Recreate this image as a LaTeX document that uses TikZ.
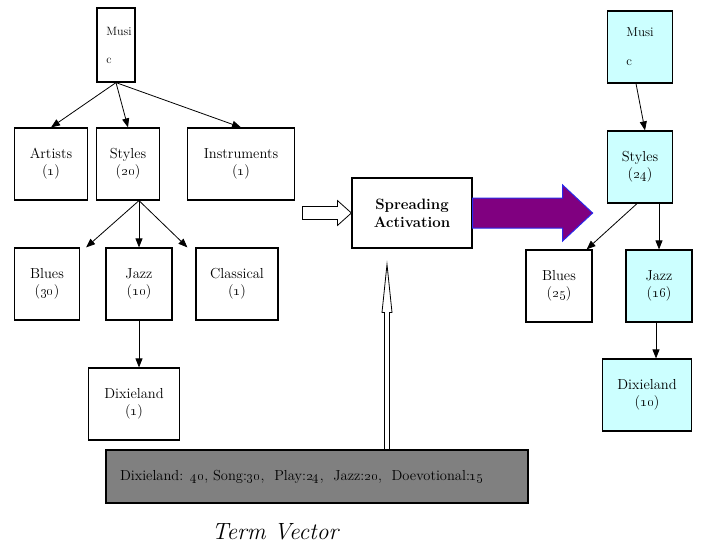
\documentclass[tikz,border=0pt]{standalone}
\usetikzlibrary{arrows.meta,calc}
\definecolor{smCyan}{RGB}{204,255,255}
\definecolor{smPurple}{RGB}{128,0,128}
\definecolor{smBlue}{RGB}{40,40,235}
\definecolor{smGrey}{RGB}{128,128,128}

\begin{document}
\begin{tikzpicture}[
    x=1pt, y=-1pt,
    font=\fontsize{14.5}{17}\selectfont,
    term box/.style={rectangle, draw, line width=1.2pt, fill=white, align=center, minimum height=72pt, inner sep=2pt},
    hit box/.style={term box, fill=smCyan},
    link/.style={->, >={Triangle[length=9pt, width=7pt]}, line width=0.8pt},
    hollow arrow/.style={draw, line width=0.8pt, fill=white, line join=miter}
]
  \useasboundingbox (0,0) rectangle (701,549);

  % query tree
  \node[term box, minimum width=38pt, minimum height=74pt, align=left, font=\fontsize{12}{14}\selectfont] (music) at (116,45)
        {\hspace*{6pt}Musi\\[14pt]\hspace*{6pt}c};
  \node[term box, minimum width=73pt] (artists) at (51,164) {Artists\\(\oldstylenums{1})};
  \node[term box, minimum width=63pt] (styles) at (128,164) {Styles\\(\oldstylenums{20})};
  \node[term box, minimum width=107pt] (instruments) at (241,164) {Instruments\\(\oldstylenums{1})};
  \node[term box, minimum width=65pt] (blues) at (47,284) {Blues\\(\oldstylenums{30})};
  \node[term box, minimum width=66pt] (jazz) at (139,284) {Jazz\\(\oldstylenums{10})};
  \node[term box, minimum width=82pt] (classical) at (237,284) {Classical\\(\oldstylenums{1})};
  \node[term box, minimum width=91pt] (dixieland) at (134,404) {Dixieland\\(\oldstylenums{1})};

  \coordinate (fork) at (styles.south -| jazz.north);
  \draw[link] (music.south) -- (artists.north);
  \draw[link] (music.south) -- (styles.north);
  \draw[link] (music.south) -- (instruments.north);
  \draw[link] (fork) -- ($(blues.north east)+(6,0)$);
  \draw[link] (fork) -- (jazz.north);
  \draw[link] (fork) -- ($(classical.north west)+(-8,0)$);
  \draw[link] (jazz.south) -- (jazz.south |- dixieland.north);

  % spreading step
  \node[term box, minimum width=120pt, minimum height=70pt, font=\fontsize{15}{18}\selectfont\bfseries] (spread) at (412,213) {Spreading\\Activation};
  \node[draw, line width=1.2pt, fill=smGrey, minimum width=422pt, minimum height=53pt,
        text width=394pt, inner xsep=14pt, align=left] (terms) at (317,476.5)
        {Dixieland: \oldstylenums{40}, Song:\oldstylenums{30},\ \ Play:\oldstylenums{24},\ \ Jazz:\oldstylenums{20},\ \ Doevotional:\oldstylenums{15}};
  \node[font=\fontsize{23.5}{28}\selectfont\itshape] (caption) at (275,532) {Term Vector};

  \draw[hollow arrow] (spread.west) -- ++(-14,-12.5) -- ++(0,6) -- ++(-35,0) -- ++(0,13) -- ++(35,0) -- ++(0,6) -- cycle;
  \coordinate (feed) at ($(terms.north)+(70,0)$);
  \draw[hollow arrow] (feed) ++(-2.5,0) -- ++(0,-137) -- ++(-2.5,0) -- ++(5,-48) -- ++(5,48) -- ++(-2.5,0) -- ++(0,137) -- cycle;
  \draw[line width=1pt, draw=smBlue, fill=smPurple] (spread.east) ++(0,-15) -- ++(90,0) -- ++(0,-13) -- ++(30,28) -- ++(-30,28) -- ++(0,-13) -- ++(-90,0) -- cycle;

  % expanded tree
  \node[hit box, minimum width=65pt, align=left, font=\fontsize{13}{15}\selectfont] (music2) at (640,47) {Musi\\[14pt]c};
  \node[hit box, minimum width=65pt] (styles2) at (640,167) {Styles\\(\oldstylenums{24})};
  \node[term box, minimum width=66pt] (blues2) at (559,286) {Blues\\(\oldstylenums{25})};
  \node[hit box, minimum width=66pt] (jazz2) at (659,286) {Jazz\\(\oldstylenums{16})};
  \node[hit box, minimum width=89pt] (dixieland2) at (647,395) {Dixieland\\(\oldstylenums{10})};

  \draw[link] ($(music2.south)+(-4,0)$) -- ($(styles2.north)+(5,0)$);
  \draw[link] ($(styles2.south)+(-3,0)$) -- ($(blues2.north east)+(-6,0)$);
  \draw[link] (styles2.south -| jazz2.north) -- (jazz2.north);
  \draw[link] ($(jazz2.south)+(-3,0)$) -- ($(jazz2.south |- dixieland2.north)+(-3,0)$);
\end{tikzpicture}
\end{document}
